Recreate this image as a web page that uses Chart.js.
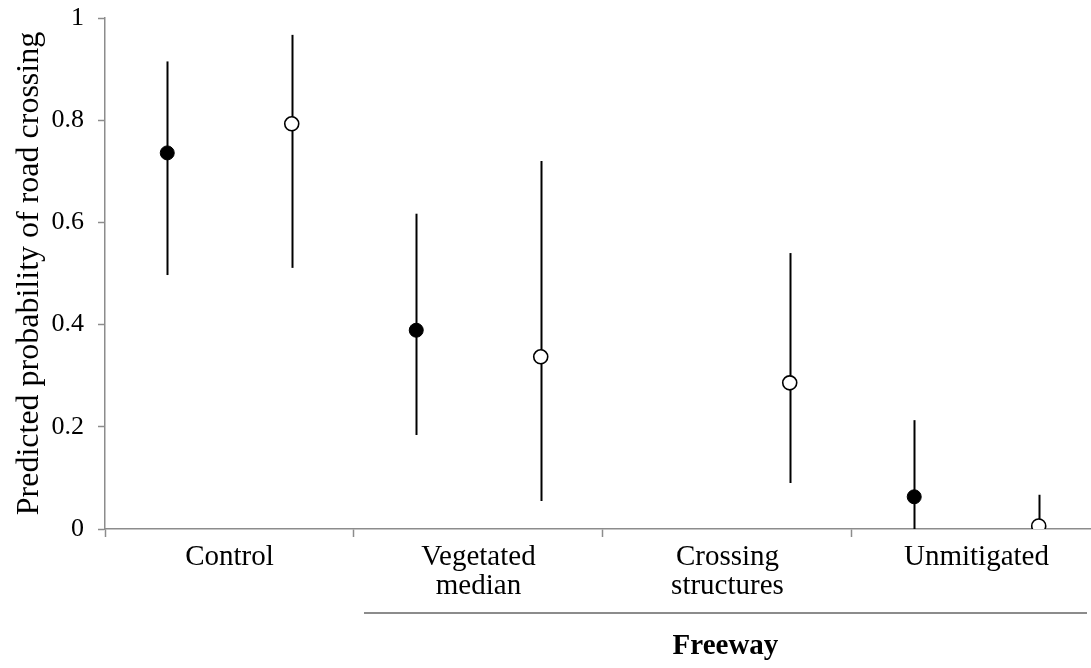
<!DOCTYPE html>
<html>
<head>
<meta charset="utf-8">
<script src="https://cdn.jsdelivr.net/npm/chart.js@4"></script>
<style>
  html, body { margin: 0; padding: 0; background: #fff; overflow: hidden; }
  #wrap { width: 1091px; height: 668px; position: relative; }
</style>
</head>
<body>
<div id="wrap"><canvas id="chart"></canvas></div>
<script>
// Categories along the x axis
const categories = ['Control', ['Vegetated', 'median'], ['Crossing', 'structures'], 'Unmitigated'];
const yTicks = [0, 0.2, 0.4, 0.6, 0.8, 1];

// Filled circles
const filledMean = [0.736, 0.389, null, 0.063];
const filledLow = [0.497, 0.184, null, 0];
const filledHigh = [0.915, 0.617, null, 0.213];

// Open circles
const openMean = [0.793, 0.337, 0.286, 0.006];
const openLow = [0.511, 0.055, 0.090, 0];
const openHigh = [0.967, 0.720, 0.540, 0.067];

const groupLabel = 'Freeway';
const axisGray = '#8c8c8c';
const font = 'Liberation Serif';

function toPoints(mean, low, high, offset) {
  const pts = [];
  mean.forEach((m, i) => {
    if (m === null) return;
    pts.push({ x: i + offset, y: m, lo: low[i], hi: high[i] });
  });
  return pts;
}

// Error bars under the markers
const errorBars = {
  id: 'errorBars',
  beforeDatasetsDraw(chart) {
    const { ctx, scales: { x, y } } = chart;
    ctx.save();
    ctx.strokeStyle = '#000';
    ctx.lineWidth = 2;
    chart.data.datasets.forEach(ds => {
      ds.data.forEach(p => {
        const px = Math.round(x.getPixelForValue(p.x)) + 0.5;
        ctx.beginPath();
        ctx.moveTo(px, y.getPixelForValue(p.hi));
        ctx.lineTo(px, y.getPixelForValue(p.lo));
        ctx.stroke();
      });
    });
    ctx.restore();
  }
};

// Group bracket under the last three categories
const groupBracket = {
  id: 'groupBracket',
  afterDraw(chart) {
    const { ctx, chartArea, scales: { x } } = chart;
    const x0 = x.getPixelForValue(1) + 10;
    const x1 = chartArea.right - 4;
    ctx.save();
    ctx.strokeStyle = axisGray;
    ctx.lineWidth = 2;
    ctx.beginPath();
    ctx.moveTo(x0, 613);
    ctx.lineTo(x1, 613);
    ctx.stroke();
    ctx.fillStyle = '#000';
    ctx.font = 'bold 29px "' + font + '"';
    ctx.textAlign = 'center';
    ctx.textBaseline = 'middle';
    ctx.fillText(groupLabel, (x0 + x1) / 2, 647);
    ctx.restore();
  }
};

new Chart(document.getElementById('chart'), {
  type: 'scatter',
  data: {
    datasets: [
      {
        label: 'filled',
        data: toPoints(filledMean, filledLow, filledHigh, 0.25),
        backgroundColor: '#000',
        borderColor: '#000',
        borderWidth: 1,
        pointRadius: 7,
        showLine: false
      },
      {
        label: 'open',
        data: toPoints(openMean, openLow, openHigh, 0.75),
        backgroundColor: '#fff',
        borderColor: '#000',
        borderWidth: 1.6,
        pointRadius: 7,
        showLine: false
      }
    ]
  },
  options: {
    responsive: true,
    maintainAspectRatio: false,
    animation: false,
    layout: { autoPadding: false, padding: { top: 18, right: 0, left: 0, bottom: 0 } },
    plugins: { legend: { display: false }, tooltip: { enabled: false } },
    scales: {
      x: {
        type: 'linear',
        min: 0,
        max: 3.96,
        afterBuildTicks: scale => {
          const t = [];
          for (let v = 0; v < 4; v += 0.5) t.push({ value: v });
          scale.ticks = t;
        },
        afterFit: scale => {
          scale.height = 139;
          scale.paddingLeft = 0;
          scale.paddingRight = 0;
        },
        border: { color: axisGray, width: 1.5 },
        grid: {
          drawOnChartArea: false,
          tickLength: 8,
          tickWidth: 1.5,
          tickColor: c => (c.tick && Number.isInteger(c.tick.value)) ? axisGray : 'rgba(0,0,0,0)'
        },
        ticks: {
          autoSkip: false,
          maxRotation: 0,
          padding: 6,
          color: '#000',
          font: { family: font, size: 29, lineHeight: 1.0 },
          callback: v => Number.isInteger(v) ? '' : categories[Math.floor(v)]
        }
      },
      y: {
        min: 0,
        max: 1,
        afterBuildTicks: scale => { scale.ticks = yTicks.map(v => ({ value: v })); },
        afterFit: scale => {
          scale.width = 105;
          scale.paddingTop = 0;
          scale.paddingBottom = 0;
        },
        border: { color: axisGray, width: 1.5 },
        grid: { drawOnChartArea: false, tickLength: 7, tickWidth: 1.5, tickColor: axisGray },
        ticks: {
          padding: 14,
          color: '#000',
          font: { family: font, size: 26 },
          callback: v => String(+v.toFixed(1))
        },
        title: {
          display: true,
          text: 'Predicted probability of road crossing',
          color: '#000',
          font: { family: font, size: 32 },
          padding: { top: 10, bottom: 0 }
        }
      }
    }
  },
  plugins: [errorBars, groupBracket]
});
</script>
</body>
</html>
